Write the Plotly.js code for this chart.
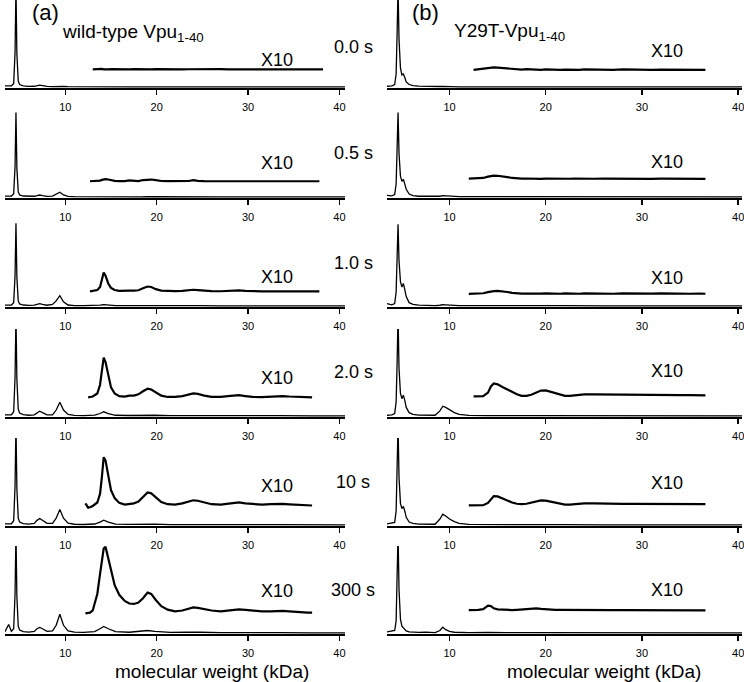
<!DOCTYPE html>
<html>
<head>
<meta charset="utf-8">
<script src="https://cdn.plot.ly/plotly-3.0.1.min.js"></script>
<style>
  html, body { margin: 0; padding: 0; background: #fff; }
  #graph { width: 744px; height: 682px; }
</style>
</head>
<body>
<div id="graph"></div>
<script>
const times = ['0.0 s', '0.5 s', '1.0 s', '2.0 s', '10 s', '300 s'];
const tickVals = [10, 20, 30, 40];

// (a) wild-type Vpu1-40, full spectra (kDa, intensity)
const wtX = [3.4, 3.8, 4.1, 4.35, 4.5, 4.6, 4.7, 4.85, 5.0, 5.4, 6.0, 6.6, 6.9, 7.2, 7.5, 8.0, 8.6, 9.0, 9.4, 9.8,
  10.3, 11.0, 12.0, 13.2, 13.8, 14.2, 14.7, 15.5, 17.0, 18.3, 19.0, 19.8, 21.5, 23.3, 24.0, 24.8, 27.0, 28.7, 30.5, 33.5, 37.0, 40.6];
const wt00 = [1.5, 1.2, 1.5, 4, 40, 115, 38, 7, 3, 1.5, 0.8, 1, 1.8, 2.4, 1.8, 0.8, 0.6, 0.8, 1.2, 0.8,
  0.5, 0.4, 0.4, 0.3, 0.3, 0.4, 0.3, 0.3, 0.3, 0.3, 0.3, 0.3, 0.3, 0.3, 0.3, 0.3, 0.3, 0.3, 0.3, 0.3, 0.3, 0.3];
const wt05 = [1.2, 1, 1.3, 4, 35, 97, 33, 6, 2.5, 1.3, 0.8, 1, 1.8, 2.4, 1.6, 0.8, 1.2, 3, 5.7, 2.5,
  0.8, 0.5, 0.4, 0.4, 0.5, 0.7, 0.5, 0.4, 0.4, 0.4, 0.6, 0.5, 0.4, 0.4, 0.5, 0.4, 0.4, 0.4, 0.4, 0.3, 0.3, 0.3];
const wt10 = [1.2, 1, 1.3, 4, 35, 95, 33, 6, 2.5, 1.3, 0.8, 1.2, 2.2, 2.8, 2, 1, 2, 6, 12, 5,
  1.3, 0.6, 0.5, 0.6, 1.1, 1.8, 1.1, 0.6, 0.5, 0.6, 0.8, 0.6, 0.4, 0.5, 0.6, 0.5, 0.4, 0.5, 0.4, 0.4, 0.3, 0.3];
const wt20 = [1.5, 1.3, 1.6, 5, 45, 115, 42, 8, 3.5, 1.8, 1, 1.5, 4, 5.7, 4, 1.5, 1.5, 7, 16, 7,
  2, 0.8, 0.6, 1.2, 3, 5, 3, 1, 0.7, 0.9, 1.4, 1, 0.5, 0.6, 0.8, 0.6, 0.4, 0.6, 0.4, 0.5, 0.3, 0.3];
const wt10s = [1.5, 1.3, 1.6, 5, 45, 115, 42, 8, 3.5, 1.8, 1.2, 2, 5.5, 7.6, 5.5, 2, 2, 8, 18, 8,
  2.2, 1, 0.7, 1.3, 3.5, 5.7, 3.5, 1.2, 0.8, 1, 1.6, 1.2, 0.6, 0.7, 0.9, 0.7, 0.5, 0.6, 0.5, 0.5, 0.4, 0.3];
const wt300 = [1.5, 10, 2, 5, 45, 115, 42, 8, 3.5, 1.8, 1.2, 2, 5, 6.5, 5, 2, 2.5, 9, 21.6, 9,
  2.5, 1.2, 0.9, 1.8, 5, 7.6, 5, 1.8, 1, 1.8, 3, 2, 0.9, 1, 1.3, 1, 0.6, 0.8, 0.6, 0.6, 0.4, 0.3];

// (a) X10 expanded traces (already lifted above baseline)
const wtZoomX = [12.2, 12.5, 12.7, 13.0, 13.5, 13.8, 14.0, 14.2, 14.4, 14.7, 15.0, 15.4, 15.9, 16.5, 17.0, 17.5, 18.0, 18.5, 19.0, 19.4,
  19.9, 20.5, 21.2, 22.0, 22.8, 23.5, 24.0, 24.5, 25.2, 26.0, 27.0, 27.8, 28.5, 29.0, 29.7, 30.5, 31.5, 32.5, 33.2, 33.8,
  34.5, 35.5, 36.5, 37.0, 37.8, 38.2];
const wtZoom00 = [null, null, null, 20.3, 20.8, 20.5, 20.9, 20.4, 20.7, 20.3, 20.6, 20.4, 20.7, 20.5, 20.3, 20.6, 20.4, 20.7, 20.5, 20.3,
  20.6, 20.4, 20.5, 20.7, 20.3, 20.5, 20.6, 20.4, 20.5, 20.3, 20.6, 20.4, 20.5, 20.7, 20.4, 20.5, 20.3, 20.6, 20.4, 20.5,
  20.3, 20.6, 20.4, 20.5, 20.3, 20.4];
const wtZoom05 = [null, null, 18.2, 18.3, 18.5, 19, 19.8, 20.4, 20.6, 20.2, 19.2, 18.6, 18.3, 18.3, 19.2, 18.5, 18.4, 19.6, 20.2, 20.2,
  19.6, 18.5, 18.3, 18.2, 18.3, 18.5, 19.5, 18.6, 18.3, 18.2, 18.2, 18.2, 18.3, 18.2, 18.2, 18.2, 18.2, 18.2, 18.2, 18.2,
  18.2, 18.2, 18.2, 18.2, 18.2, null];
const wtZoom10 = [null, null, 17, 17.3, 18.5, 22, 30, 38.6, 35, 26, 21, 18.5, 17.5, 17.2, 17.8, 17.8, 18.2, 20.5, 22.5, 22,
  19.5, 17.8, 17.3, 17.2, 17.5, 18.2, 18.8, 18.4, 17.5, 17.2, 17.1, 17.5, 18, 18, 17.5, 17.1, 17, 17, 17, 17.3,
  17, 17, 17, 17, 17, null];
const wtZoom20 = [null, 21.6, 21.8, 22.5, 26, 36, 52, 67, 62, 46, 33, 26, 23, 22.5, 23.5, 23.5, 25, 28.5, 31.5, 30.5,
  27, 23.5, 22, 22, 23, 25, 26, 25.5, 23.5, 22.2, 22, 23, 24, 24, 23, 22, 21.8, 22.3, 23, 23,
  22.5, 21.8, 21.6, 21.6, null, null];
const wtZoom10s = [25, 20, 20.5, 22, 26, 36, 55, 78, 74, 55, 40, 31, 25.5, 23.5, 24.5, 25, 27, 32, 37.5, 36.5,
  31.5, 26.5, 24, 23.5, 25, 27.5, 28.5, 28, 26, 24, 23.5, 24.5, 25.8, 26, 25, 24, 23.5, 24, 24.5, 24.3,
  23.8, 23, 22.5, 22.5, null, null];
const wtZoom300 = [22.7, 22.9, 23.5, 26, 45, 68, 85, 97, 99, 86, 70, 55, 44, 37, 34, 33.5, 35, 40, 46.5, 45,
  38, 31, 27, 25, 26, 28.5, 29.5, 29, 27.5, 26, 25, 26, 27, 27.3, 26.8, 25.8, 25, 25, 25.5, 25.5,
  25, 24, 23.5, 23.5, null, null];

// (b) Y29T-Vpu1-40, full spectra
const mtX = [3.5, 4.0, 4.3, 4.45, 4.55, 4.65, 4.75, 4.9, 5.05, 5.2, 5.35, 5.5, 5.8, 6.2, 6.8, 7.5, 8.5, 9.0, 9.3, 9.6,
  10.0, 10.5, 11.0, 12.0, 14.0, 14.8, 16.0, 19.0, 20.0, 22.0, 26.0, 30.0, 35.0, 40.4];
const mt00 = [1, 1.5, 3, 15, 60, 115, 55, 22, 14, 15, 11, 6, 3, 1.8, 1.2, 0.8, 0.6, 0.7, 0.9, 0.7,
  0.5, 0.5, 0.4, 0.4, 0.4, 0.4, 0.4, 0.4, 0.4, 0.4, 0.4, 0.4, 0.4, 0.4];
const mt05 = [2, 1.5, 3, 15, 55, 97, 50, 24, 18, 20.5, 15, 9, 3.5, 1.8, 1, 0.8, 0.6, 1, 1.7, 1.5,
  1, 0.6, 0.5, 0.5, 0.5, 0.5, 0.5, 0.4, 0.4, 0.4, 0.4, 0.4, 0.4, 0.4];
const mt10 = [3, 1.5, 3, 16, 55, 94, 52, 28, 22, 26, 19, 11, 4, 2, 1.2, 0.8, 0.6, 1, 1.7, 1.5,
  1, 0.6, 0.5, 0.5, 0.6, 0.8, 0.6, 0.5, 0.5, 0.5, 0.4, 0.4, 0.4, 0.4];
const mt20 = [1, 1.5, 3, 16, 60, 115, 55, 26, 20, 24, 18, 10, 4, 2, 1.2, 0.8, 1, 6, 11.4, 10,
  7, 4, 2, 0.8, 0.6, 0.9, 0.6, 0.5, 0.5, 0.5, 0.4, 0.4, 0.4, 0.4];
const mt10s = [1.5, 2, 3, 16, 60, 115, 55, 25, 19, 21.6, 16, 9, 3.5, 2, 1.2, 0.8, 1, 7, 12.5, 10.5,
  7, 4, 2, 0.8, 0.6, 0.9, 0.6, 0.5, 0.5, 0.5, 0.4, 0.4, 0.4, 0.4];
const mt300 = [1.5, 2, 3, 14, 60, 115, 50, 16, 8, 6, 4, 2.5, 1.5, 1, 0.8, 1.2, 0.6, 3, 6.8, 4,
  2, 1, 0.6, 0.5, 0.8, 0.6, 0.5, 0.5, 0.5, 0.4, 0.4, 0.4, 0.4, 0.4];

// (b) X10 expanded traces
const mtZoomX = [12.0, 12.5, 13.0, 13.5, 14.0, 14.3, 14.6, 15.0, 15.5, 16.0, 16.5, 17.0, 17.5, 18.0, 18.5, 19.0, 19.5, 20.0, 20.5, 21.0,
  21.5, 22.0, 22.5, 23.0, 23.5, 24.0, 25.0, 26.0, 27.0, 28.0, 29.0, 30.0, 31.0, 32.0, 33.0, 34.0, 35.0, 36.0, 36.6];
const mtZoom00 = [null, 19.8, 20.5, 21.3, 22, 22.4, 22.6, 22.3, 21.8, 21.2, 20.8, 20.4, 20.2, 20.6, 20.1, 20.4, 19.9, 20.3, 20, 20.4,
  19.8, 20.2, 20, 20.4, 19.9, 20.3, 20, 20.2, 19.9, 20.3, 20, 20.2, 19.9, 20.2, 20, 20.1, 19.9, 20, 19.8];
const mtZoom05 = [21.2, 21.2, 21.3, 22, 23.5, 24.3, 24.6, 24.5, 24, 23, 22, 21.5, 21.2, 21.4, 21.1, 21.3, 21, 21.3, 21.1, 21.2,
  21, 21.3, 21.1, 21.2, 21, 21.3, 21.1, 21.2, 21, 21.2, 21.1, 21.2, 21, 21.2, 21.1, 21.1, 21, 21.1, 21];
const mtZoom10 = [14, 14, 14.2, 14.8, 16, 16.8, 17.3, 17.4, 17, 16.2, 15.3, 14.6, 14.3, 14.5, 14.2, 14.5, 14.3, 14.6, 14.3, 14.5,
  14.2, 14.6, 14.3, 14.5, 14.2, 14.6, 14.3, 14.5, 14.2, 14.6, 14.3, 14.5, 14.4, 14.6, 14.3, 14.5, 14.2, 14.4, 14.2];
const mtZoom20 = [null, 22.7, 22.7, 22.9, 27, 34, 37.5, 36.5, 33.5, 30.5, 27.5, 25, 23.3, 23.3, 24.5, 27, 29.3, 29.5, 28, 26,
  24.5, 23.3, 23.2, 24, 24.8, 25, 25, 24.8, 24.7, 24.5, 24.5, 24.4, 24.2, 24.2, 24, 24, 24, 23.8, 23.8];
const mtZoom10s = [22.7, 22.7, 22.7, 22.8, 25.5, 29, 33.3, 33, 30.5, 28, 26, 24.5, 24, 24.5, 26, 27.5, 28.4, 28.2, 27, 25.5,
  24.3, 23.6, 23.6, 24.3, 24.8, 25, 25, 24.6, 24.4, 24.3, 24.3, 24.2, 24.2, 24.1, 24.1, 24, 24, 24, 24];
const mtZoom300 = [26.5, 26.5, 26.7, 27.5, 31.5, 31, 28.5, 27.3, 26.8, 26.5, 26.5, 26.8, 27.3, 28, 28.5, 28.3, 27.8, 27.3, 27, 26.8,
  26.7, 26.6, 26.6, 26.6, 26.5, 26.5, 26.5, 26.5, 26.4, 26.4, 26.4, 26.3, 26.3, 26.3, 26.2, 26.2, 26.2, 26.2, 26.2];

const wtRows = [wt00, wt05, wt10, wt20, wt10s, wt300];
const wtZoomRows = [wtZoom00, wtZoom05, wtZoom10, wtZoom20, wtZoom10s, wtZoom300];
const mtRows = [mt00, mt05, mt10, mt20, mt10s, mt300];
const mtZoomRows = [mtZoom00, mtZoom05, mtZoom10, mtZoom20, mtZoom10s, mtZoom300];

// layout in pixels: baseline of each row, frame height 88px, plot area 5..742 x 0..634
const baseY = [88, 198, 307, 417, 526, 634];
const plotL = 5, plotW = 737, plotH = 634, frameH = 88;
const leftDom = [0, 0.4613];
const rightDom = [0.5183, 1];
const font = 'Arial, "Liberation Sans", sans-serif';

// label heights above the baseline, in intensity units
const wtX10Lift = [31, 39, 33, 44, 45, 48];
const mtX10Lift = [42, 40, 32, 52, 48, 49];
const timeLift = [47, 51, 50, 51, 50, 50];

const traces = [];
const annotations = [];
const layout = {
    width: 744,
    height: 682,
    margin: {l: plotL, r: 2, t: 0, b: 48},
    paper_bgcolor: '#fff',
    plot_bgcolor: '#fff',
    showlegend: false,
    annotations: annotations
};

function axName(k, letter) {
    return letter + 'axis' + (k === 1 ? '' : k);
}
// pixel -> paper fraction
function px(x) { return (x - plotL) / plotW; }
function py(y) { return (plotH - y) / plotH; }

function label(extra) {
    return Object.assign({showarrow: false, xanchor: 'center', yanchor: 'middle',
        font: {family: font, size: 18, color: '#000'}}, extra);
}

for (let i = 0; i < 6; i++) {
    const dom = [py(baseY[i]), py(baseY[i] - frameH)];
    const sides = [
        {k: i + 1, xdom: leftDom, range: [3.4, 40.6], x: wtX, y: wtRows[i], zx: wtZoomX, zy: wtZoomRows[i]},
        {k: i + 7, xdom: rightDom, range: [3.5, 40.4], x: mtX, y: mtRows[i], zx: mtZoomX, zy: mtZoomRows[i]}
    ];
    sides.forEach(function (s) {
        const xr = 'x' + (s.k === 1 ? '' : s.k);
        const yr = 'y' + (s.k === 1 ? '' : s.k);
        layout[axName(s.k, 'x')] = {
            domain: s.xdom, range: s.range, anchor: yr,
            showline: true, linecolor: '#000', linewidth: 1.5,
            ticks: 'outside', ticklen: 5, tickwidth: 1.5, tickcolor: '#000',
            tickvals: tickVals, ticklabelstandoff: 3, ticklabeloverflow: 'allow',
            tickfont: {family: font, size: 11, color: '#000'},
            showgrid: false, zeroline: false, fixedrange: true
        };
        layout[axName(s.k, 'y')] = {
            domain: dom, range: [-1, 100], anchor: xr,
            visible: false, showgrid: false, zeroline: false, fixedrange: true
        };
        traces.push({x: s.x, y: s.y, xaxis: xr, yaxis: yr, type: 'scatter', mode: 'lines',
            line: {color: '#000', width: 1.3}, hoverinfo: 'skip'});
        traces.push({x: s.zx, y: s.zy, xaxis: xr, yaxis: yr, type: 'scatter', mode: 'lines',
            line: {color: '#000', width: 2.2}, connectgaps: false, hoverinfo: 'skip'});
    });

    const lx = 'x' + (i === 0 ? '' : i + 1), ly = 'y' + (i === 0 ? '' : i + 1);
    const rx = 'x' + (i + 7), ry = 'y' + (i + 7);
    annotations.push(label({xref: lx, yref: ly, x: 33.2, y: wtX10Lift[i], text: 'X10'}));
    annotations.push(label({xref: rx, yref: ry, x: 32.6, y: mtX10Lift[i], text: 'X10'}));
    annotations.push(label({xref: 'paper', yref: 'paper', x: px(353),
        y: py(baseY[i] - timeLift[i] * frameH / 100), text: times[i]}));
}

annotations.push(label({xref: 'x', yref: 'y', x: 7.85, y: 86, text: '(a)', font: {family: font, size: 22, color: '#000'}}));
annotations.push(label({xref: 'x7', yref: 'y7', x: 7.54, y: 86, text: '(b)', font: {family: font, size: 22, color: '#000'}}));
annotations.push(label({xref: 'x', yref: 'y', x: 9.38, y: 62, xanchor: 'left', text: 'wild-type Vpu<sub>1-40</sub>',
    font: {family: font, size: 19, color: '#000'}}));
annotations.push(label({xref: 'x7', yref: 'y7', x: 10.24, y: 63, xanchor: 'left', text: 'Y29T-Vpu<sub>1-40</sub>',
    font: {family: font, size: 19, color: '#000'}}));
annotations.push(label({xref: 'paper', yref: 'paper', x: px(212), y: py(671), text: 'molecular weight (kDa)',
    font: {family: font, size: 19, color: '#000'}}));
annotations.push(label({xref: 'paper', yref: 'paper', x: px(604), y: py(671), text: 'molecular weight (kDa)',
    font: {family: font, size: 19, color: '#000'}}));

Plotly.newPlot('graph', traces, layout, {staticPlot: true});
</script>
</body>
</html>
